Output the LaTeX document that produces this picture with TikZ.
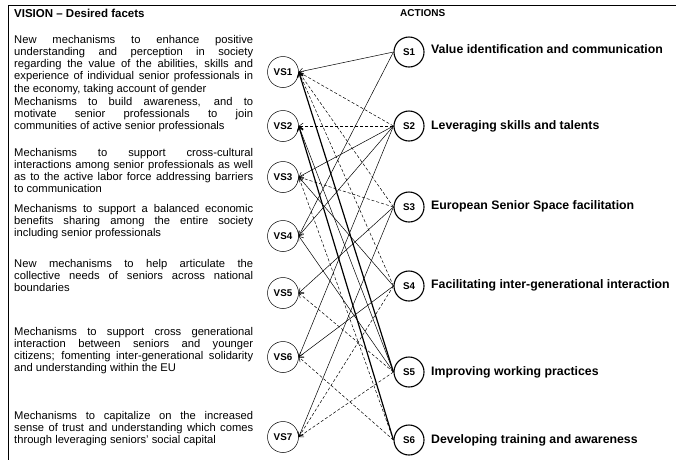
\documentclass[tikz,border=0pt]{standalone}
\usepackage{fontspec}
\setmainfont{Liberation Sans}
\usetikzlibrary{arrows.meta}
\newcommand{\jl}[1]{\makebox[239pt][s]{#1}}
\begin{document}
\begin{tikzpicture}[x=1pt,y=-1pt,
  vs/.style={circle,draw,line width=0.5pt,minimum size=31pt,inner sep=0pt,font=\bfseries\fontsize{9.8}{11}\selectfont},
  sn/.style={circle,draw,line width=1.1pt,minimum size=30pt,inner sep=0pt,font=\bfseries\fontsize{9.8}{11}\selectfont},
  para/.style={anchor=north west,inner sep=0pt,align=left,font=\fontsize{11.2}{12.2}\selectfont},
  act/.style={anchor=west,inner sep=0pt,font=\bfseries\fontsize{12.3}{14}\selectfont},
  head/.style={anchor=west,inner sep=0pt,font=\bfseries\fontsize{11.5}{13}\selectfont},
  link/.style={line width=0.5pt,-{Straight Barb[length=4pt,width=6pt]}},
  weak/.style={link,dash pattern=on 3pt off 2pt},
  strong/.style={link,line width=1.2pt}
]
\useasboundingbox (0,0) rectangle (676,459);
\begin{scope}
\clip (0,0) rectangle (676,459);
\draw[line width=1pt] (8,5) rectangle (700,480);
\end{scope}

\node[head] (hv) at (14,13) {VISION -- Desired facets};
\node[head,font=\bfseries\fontsize{10}{12}\selectfont] (ha) at (400,13) {ACTIONS};

\node[para] (p1) at (14,35) {\jl{New mechanisms to enhance positive}\\\jl{understanding and perception in society}\\\jl{regarding the value of the abilities, skills and}\\\jl{experience of individual senior professionals in}\\the economy, taking account of gender};
\node[para] (p2) at (14,97) {\jl{Mechanisms to build awareness, and to}\\\jl{motivate senior professionals to join}\\communities of active senior professionals};
\node[para] (p3) at (14,148) {\jl{Mechanisms to support cross-cultural}\\\jl{interactions among senior professionals as well}\\\jl{as to the active labor force addressing barriers}\\to communication};
\node[para] (p4) at (14,204) {\jl{Mechanisms to support a balanced economic}\\\jl{benefits sharing among the entire society}\\including senior professionals};
\node[para] (p5) at (14,259) {\jl{New mechanisms to help articulate the}\\\jl{collective needs of seniors across national}\\boundaries};
\node[para] (p6) at (14,327) {\jl{Mechanisms to support cross generational}\\\jl{interaction between seniors and younger}\\\jl{citizens; fomenting inter-generational solidarity}\\and understanding within the EU};
\node[para] (p7) at (14,411) {\jl{Mechanisms to capitalize on the increased}\\\jl{sense of trust and understanding which comes}\\through leveraging seniors' social capital};

\node[vs] (v1) at (283,72) {VS1};
\node[vs] (v2) at (283,126) {VS2};
\node[vs] (v3) at (283,177) {VS3};
\node[vs] (v4) at (283,236) {VS4};
\node[vs] (v5) at (283,293) {VS5};
\node[vs] (v6) at (283,357) {VS6};
\node[vs] (v7) at (283,437) {VS7};

\node[sn] (s1) at (409,52) {S1};
\node[sn] (s2) at (409,126) {S2};
\node[sn] (s3) at (409,207) {S3};
\node[sn] (s4) at (409,286) {S4};
\node[sn] (s5) at (409,372) {S5};
\node[sn] (s6) at (409,440) {S6};

\node[act] (a1) at (431,49) {Value identification and communication};
\node[act] (a2) at (431,126) {Leveraging skills and talents};
\node[act] (a3) at (431,206) {European Senior Space facilitation};
\node[act] (a4) at (431,285) {Facilitating inter-generational interaction};
\node[act] (a5) at (431,372) {Improving working practices};
\node[act] (a6) at (431,440) {Developing training and awareness};

\draw[link]   (s1.west) -- (v1.east);
\draw[link]   (s1.west) -- (v4.east);
\draw[weak]   (s2.west) -- (v1.east);
\draw[weak]   (s2.west) -- (v2.east);
\draw[link]   (s2.west) -- (v3.east);
\draw[link]   (s2.west) -- (v4.east);
\draw[link]   (s2.west) -- (v6.east);
\draw[weak]   (s3.west) -- (v1.east);
\draw[weak]   (s3.west) -- (v3.east);
\draw[link]   (s3.west) -- (v5.east);
\draw[link]   (s3.west) -- (v7.east);
\draw[weak]   (s4.west) -- (v1.east);
\draw[link]   (s4.west) -- (v3.east);
\draw[link]   (s4.west) -- (v6.east);
\draw[weak]   (s4.west) -- (v7.east);
\draw[strong] (s5.west) -- (v1.east);
\draw[link]   (s5.west) -- (v2.east);
\draw[link]   (s5.west) -- (v4.east);
\draw[weak]   (s5.west) -- (v5.east);
\draw[weak]   (s5.west) -- (v7.east);
\draw[strong] (s6.west) -- (v2.east);
\draw[weak]   (s6.west) -- (v3.east);
\draw[weak]   (s6.west) -- (v6.east);
\end{tikzpicture}
\end{document}
